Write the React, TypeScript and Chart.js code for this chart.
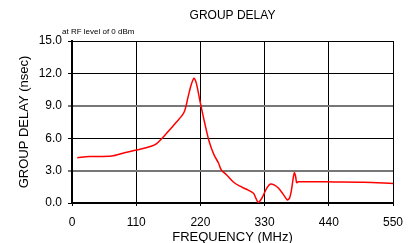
import React, { useEffect, useRef } from "react";
import { Chart, registerables } from "chart.js";

Chart.register(...registerables);

const freqMHz: number[] = [9, 30, 68, 90, 111, 137, 145, 162, 179, 192, 199, 204, 209, 213, 219, 227, 235, 243, 251, 256, 265, 276, 286, 299, 311, 315, 319, 323, 328, 334, 340, 347, 354, 362, 369, 373, 376, 379, 381, 383, 385, 388, 450, 500, 550];
const delayNs: number[] = [4.2, 4.3, 4.35, 4.65, 4.9, 5.28, 5.5, 6.45, 7.5, 8.4, 9.85, 10.9, 11.55, 11.1, 9.5, 7.5, 5.7, 4.5, 3.7, 3.05, 2.6, 1.97, 1.6, 1.27, 0.9, 0.45, 0.06, 0.25, 0.74, 1.4, 1.76, 1.65, 1.36, 0.8, 0.28, 0.5, 1.2, 2.3, 2.8, 2.5, 1.88, 1.97, 1.95, 1.92, 1.8];

const chartTitle = "GROUP DELAY";
const chartNote = "at RF level of 0 dBm";
const xTitle = "FREQUENCY (MHz)";
const yTitle = "GROUP DELAY (nsec)";

const FONT = "'Liberation Sans', Arial, sans-serif";

const titlePlugin = {
  id: "customTitles",
  afterDraw(chart: any) {
    const ctx = chart.ctx;
    const area = chart.chartArea;
    ctx.save();
    ctx.fillStyle = "#000";
    ctx.textBaseline = "middle";
    ctx.textAlign = "center";
    ctx.font = `12px ${FONT}`;
    ctx.fillText(chartTitle, (area.left + area.right) / 2, 15.5);
    ctx.textAlign = "left";
    ctx.font = `8px ${FONT}`;
    ctx.fillText(chartNote, 62, 31.5);
    ctx.restore();
  },
};

export default function App() {
  const ref = useRef<HTMLCanvasElement | null>(null);
  useEffect(() => {
    if (!ref.current) return;
    const chart = new Chart(ref.current, {
      type: "line",
      data: {
        datasets: [
          {
            data: freqMHz.map((f, i) => ({ x: f, y: delayNs[i] })),
            borderColor: "#ff0000",
            borderWidth: 1.5,
            pointRadius: 0,
            tension: 0.3,
            fill: false,
          },
        ],
      },
      options: {
        animation: false,
        responsive: false,
        layout: { padding: { top: 41, right: 24, left: 0, bottom: 0 } },
        plugins: { legend: { display: false }, tooltip: { enabled: false } },
        scales: {
          x: {
            type: "linear",
            min: 0,
            max: 550,
            afterFit: (s: any) => {
              s.height = 40;
            },
            ticks: {
              stepSize: 110,
              color: "#000",
              font: { family: FONT, size: 12 },
              padding: 9,
              maxRotation: 0,
            },
            grid: { color: "#000", lineWidth: 1, tickLength: 3 },
            border: { display: true, color: "#000", width: 2 },
            title: {
              display: true,
              text: xTitle,
              color: "#000",
              font: { family: FONT, size: 13, lineHeight: 0.83 },
              padding: { top: 0, bottom: 0 },
            },
          },
          y: {
            type: "linear",
            min: 0,
            max: 15,
            afterFit: (s: any) => {
              s.width = 72;
            },
            ticks: {
              stepSize: 3,
              color: "#000",
              font: { family: FONT, size: 12 },
              padding: 6,
              callback: (v: any) => Number(v).toFixed(1),
            },
            grid: {
              color: (c: any) => (c.tick && (c.tick.value === 3 || c.tick.value === 9) ? "#777" : "#000"),
              lineWidth: (c: any) => (c.tick && (c.tick.value === 3 || c.tick.value === 9) ? 2 : 1),
              tickLength: 4,
            },
            border: { display: true, color: "#000", width: 2 },
            title: {
              display: true,
              text: yTitle,
              color: "#000",
              font: { family: FONT, size: 13 },
              padding: { top: 17, bottom: 0 },
            },
          },
        },
      },
      plugins: [titlePlugin],
    } as any);
    return () => chart.destroy();
  }, []);
  return (
    <div style={{ position: "absolute", left: 0, top: 0, width: 417, height: 243, background: "#fff" }}>
      <canvas ref={ref} width={417} height={243} />
    </div>
  );
}
